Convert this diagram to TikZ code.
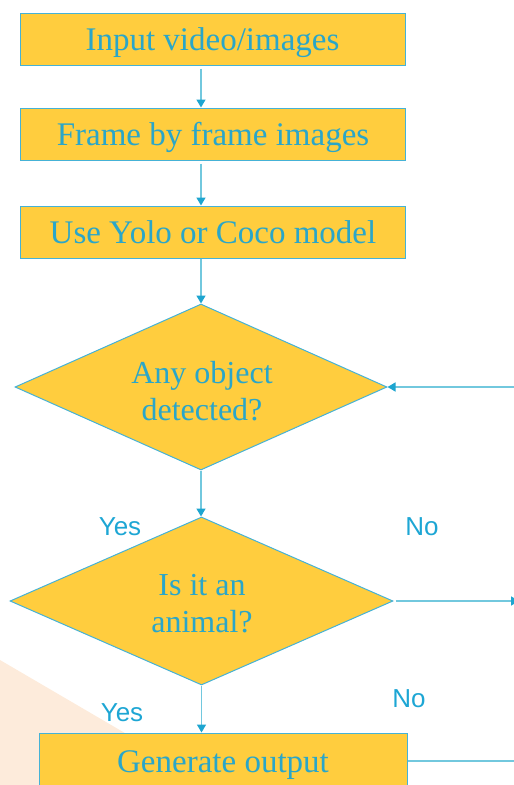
\documentclass[tikz,border=0pt]{standalone}
\usepackage{fontspec}
\setmainfont{Liberation Serif}
\setsansfont{Liberation Sans}
\usetikzlibrary{shapes.geometric,arrows.meta}
\definecolor{boxfill}{HTML}{FFCD3E}
\definecolor{txt}{HTML}{2AA6C9}
\definecolor{edgec}{HTML}{45B2D6}
\definecolor{connc}{HTML}{72C8DE}
\definecolor{tipc}{HTML}{1DA5D0}
\definecolor{lblc}{HTML}{1DA6D4}
\definecolor{pale}{HTML}{FDEBDB}
\begin{document}
\begin{tikzpicture}[x=1pt,y=-1pt,
 stepbox/.style={draw=edgec, line width=1pt, fill=boxfill, text=txt, minimum width=385pt, minimum height=52pt, inner sep=0pt, text height=22pt, text depth=0pt, font=\fontsize{33}{38}\selectfont},
 decision/.style={diamond, draw=edgec, line width=1pt, fill=boxfill, inner sep=0pt},
 dtext/.style={text=txt, inner sep=0pt, align=center, font=\fontsize{32}{37}\selectfont},
 conn/.style={draw=connc, line width=1.5pt},
 arr/.style={conn, -{Triangle[width=9pt,length=8pt,fill=tipc,color=tipc]}},
 lab/.style={text=lblc, font=\sffamily\fontsize{26}{30}\selectfont, inner sep=0pt}]
\clip (0,0) rectangle (514,785);
\fill[pale] (0,660) -- (130,736) -- (130,785) -- (0,785) -- cycle;
\node[stepbox] (b1) at (212.5,39) {Input video/images};
\node[stepbox] (b2) at (213,134) {Frame by frame images};
\node[stepbox] (b3) at (213,232) {Use Yolo or Coco model};
\node[decision, minimum width=372pt, minimum height=166pt] (d1) at (201,387) {};
\node[dtext] (d1t) at (202,391) {Any object\\detected?};
\node[decision, minimum width=383pt, minimum height=168pt] (d2) at (201.5,601) {};
\node[dtext] (d2t) at (202,604) {Is it an\\animal?};
\node[stepbox, minimum width=368pt, minimum height=56pt] (b4) at (223,761) {Generate output};
\node[lab] (y1) at (120,527) {Yes};
\node[lab] (n1) at (422,527) {No};
\node[lab] (y2) at (122,713) {Yes};
\node[lab] (n2) at (409,699) {No};
\coordinate (r1) at (514,387);
\coordinate (r2) at (519,601);
\coordinate (r3) at (514,761);
\draw[arr, shorten <=3pt] (b1.south -| d1) -- (b2.north -| d1);
\draw[arr, shorten <=3pt] (b2.south -| d1) -- (b3.north -| d1);
\draw[arr] (b3.south -| d1) -- (d1.north);
\draw[arr] (d1.south) -- (d1.south |- d2.north);
\draw[arr] (d2.south) -- (b4.north -| d2);
\draw[arr] (d1.east -| r1) -- (d1.east);
\draw[arr, shorten <=2pt] (d2.east) -- (d2.east -| r2);
\draw[conn] (b4.east) -- (b4.east -| r3);
\end{tikzpicture}
\end{document}
